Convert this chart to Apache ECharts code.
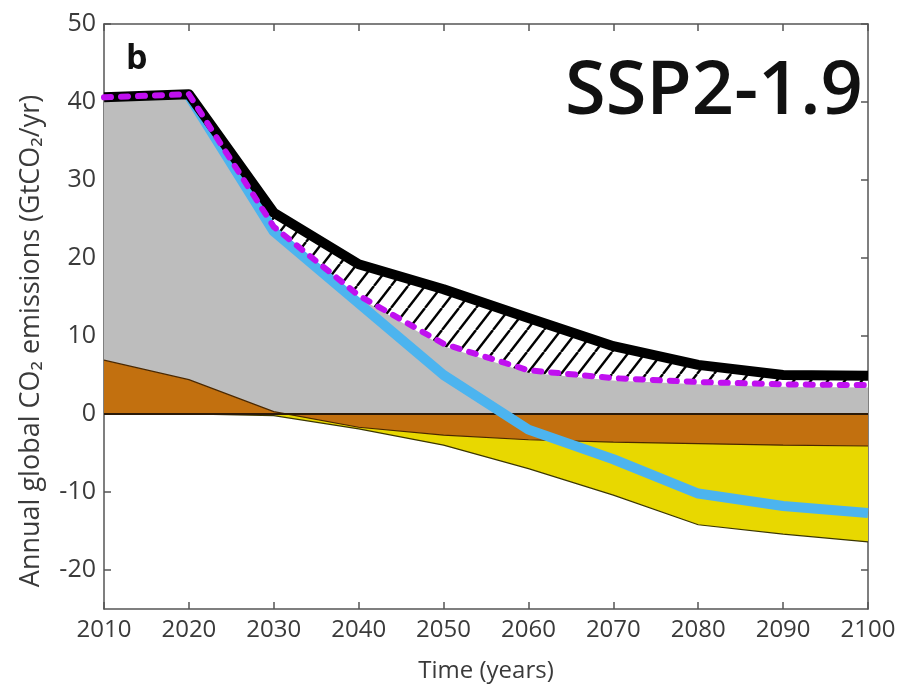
<!DOCTYPE html>
<html><head><meta charset="utf-8">
<script src="https://cdn.jsdelivr.net/npm/echarts@6/dist/echarts.min.js"></script>
<style>html,body{margin:0;padding:0;background:#fff}#c{width:913px;height:692px}</style>
</head><body><div id="c"></div>
<script>
// Years (x)
const years = [2010, 2020, 2030, 2040, 2050, 2060, 2070, 2080, 2090, 2100];
// Black thick line (upper edge of hatched band)
const blackLine = [40.6, 41.0, 25.8, 19.2, 16.0, 12.3, 8.7, 6.3, 5.0, 4.9];
// Magenta dashed line (lower edge of hatched band)
const magentaLine = [40.6, 41.0, 24.0, 15.2, 9.0, 5.6, 4.6, 4.1, 3.8, 3.7];
// Grey area (gross fossil CO2)
const greyArea = [40.2, 40.6, 23.7, 14.9, 8.7, 5.3, 4.3, 3.8, 3.5, 3.4];
// Brown area (land use)
const brownArea = [6.9, 4.4, 0.3, -1.7, -2.7, -3.3, -3.6, -3.8, -4.0, -4.1];
// Yellow area lower edge (CDR)
const yellowBottom = [0, 0, -0.2, -1.9, -4.0, -7.0, -10.4, -14.2, -15.4, -16.4];
// Blue line (net emissions)
const blueLine = [null, 40.8, 23.4, 14.2, 5.0, -2.0, -5.8, -10.2, -11.8, -12.7];
// Tick labels
const yTicks = [-20, -10, 0, 10, 20, 30, 40, 50];
const xTicks = [2010, 2020, 2030, 2040, 2050, 2060, 2070, 2080, 2090, 2100];

const pairs = arr => years.map((y, i) => [y, arr[i]]);

function hatchCanvas() {
  const w = 17, h = 22;
  const c = document.createElement('canvas');
  c.width = w; c.height = h;
  const g = c.getContext('2d');
  g.fillStyle = '#ffffff'; g.fillRect(0, 0, w, h);
  g.strokeStyle = '#000'; g.lineWidth = 2.4;
  for (const o of [-w, 0, w]) {
    g.beginPath(); g.moveTo(o, h); g.lineTo(o + w, 0); g.stroke();
  }
  return c;
}

const FONT = "'Open Sans', 'DejaVu Sans', sans-serif";
const axisLineStyle = { color: '#555', width: 1.5 };
const tickStyle = { show: true, inside: true, length: 7, lineStyle: { color: '#555', width: 1.5 } };
const hatchImg = hatchCanvas();

const chart = echarts.init(document.getElementById('c'), null, { renderer: 'canvas' });
chart.setOption({
  animation: false,
  backgroundColor: '#fff',
  grid: { left: 104, right: 45, top: 24, bottom: 83, containLabel: false },
  xAxis: [{
    type: 'value', min: 2010, max: 2100, interval: 10,
    name: 'Time (years)', nameLocation: 'middle', nameGap: 50,
    nameTextStyle: { fontFamily: FONT, fontSize: 24, color: '#3a3a3a' },
    axisLine: { show: true, onZero: false, lineStyle: axisLineStyle },
    axisTick: Object.assign({}, tickStyle, { customValues: xTicks }),
    axisLabel: { customValues: xTicks, formatter: v => String(v), fontFamily: FONT, fontSize: 24, color: '#3a3a3a', margin: 9 },
    splitLine: { show: false }
  }, {
    type: 'value', position: 'top', min: 2010, max: 2100, interval: 10,
    axisLine: { show: true, onZero: false, lineStyle: axisLineStyle },
    axisTick: Object.assign({}, tickStyle, { customValues: xTicks }),
    axisLabel: { show: false }, splitLine: { show: false }
  }],
  yAxis: [{
    type: 'value', min: -25, max: 50, interval: 5,
    axisLine: { show: true, onZero: false, lineStyle: axisLineStyle },
    axisTick: Object.assign({}, tickStyle, { customValues: yTicks }),
    axisLabel: { customValues: yTicks, fontFamily: FONT, fontSize: 25, color: '#3a3a3a', margin: 8 },
    splitLine: { show: false }
  }, {
    type: 'value', position: 'right', min: -25, max: 50, interval: 5,
    axisLine: { show: true, onZero: false, lineStyle: axisLineStyle },
    axisTick: Object.assign({}, tickStyle, { customValues: yTicks }),
    axisLabel: { show: false }, splitLine: { show: false }
  }],
  series: [
    { name: 'hatch', type: 'line', data: pairs(blackLine), symbol: 'none',
      lineStyle: { width: 0, opacity: 0 },
      areaStyle: { color: { image: hatchImg, repeat: 'repeat' }, opacity: 1 }, z: 1 },
    { name: 'grey', type: 'line', data: pairs(greyArea), symbol: 'none',
      lineStyle: { width: 0 }, areaStyle: { color: '#bdbdbd', opacity: 1 }, z: 2 },
    { name: 'yellow', type: 'line', data: pairs(yellowBottom), symbol: 'none',
      lineStyle: { width: 1.2, color: '#3b3600' }, areaStyle: { color: '#e8d800', opacity: 1 }, z: 3 },
    { name: 'brown', type: 'line', data: pairs(brownArea), symbol: 'none',
      lineStyle: { width: 1.2, color: '#4a2800' }, areaStyle: { color: '#c2700f', opacity: 1 }, z: 4,
      markLine: { silent: true, symbol: 'none', label: { show: false },
        lineStyle: { color: '#2b1a08', width: 2, type: 'solid' }, data: [{ yAxis: 0 }] } },
    { name: 'blue', type: 'line', data: pairs(blueLine), symbol: 'none', connectNulls: false,
      lineStyle: { width: 10, color: '#4cb4ef', join: 'round' }, z: 5 },
    { name: 'black', type: 'line', data: pairs(blackLine), symbol: 'none',
      lineStyle: { width: 10, color: '#000', join: 'round' }, z: 6 },
    { name: 'magenta', type: 'line', data: pairs(magentaLine), symbol: 'none',
      lineStyle: { width: 6, color: '#c010f0', type: [7, 10], cap: 'round', join: 'round' }, z: 7 }
  ],
  graphic: [
    { type: 'text', x: 31, y: 341, rotation: Math.PI / 2,
      style: { text: 'Annual global CO\u2082 emissions (GtCO\u2082/yr)', font: "27px " + FONT, fill: '#3a3a3a',
        align: 'center', verticalAlign: 'middle', textAlign: 'center', textVerticalAlign: 'middle' } },
    { type: 'text', left: 126, top: 42, style: { text: 'b', font: "bold 34px " + FONT, fill: '#111' } },
    { type: 'text', left: 565, top: 56, style: { text: 'SSP2-1.9', font: "600 74px " + FONT, fill: '#111' } }
  ]
});
</script></body></html>
